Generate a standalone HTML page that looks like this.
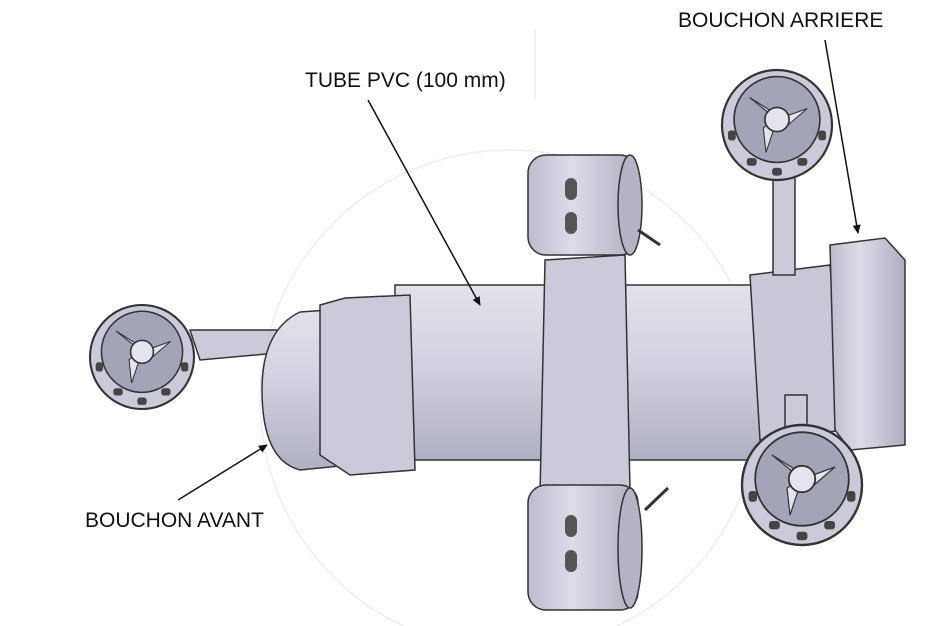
<!DOCTYPE html>
<html><head><meta charset="utf-8">
<style>
html,body{margin:0;padding:0;background:#fff;}
svg{display:block;}
text{font-family:"Liberation Sans",sans-serif;font-size:21px;fill:#111;}
</style></head>
<body>
<svg width="933" height="626" viewBox="0 0 933 626" xmlns="http://www.w3.org/2000/svg">
<defs>
<linearGradient id="tube" x1="0" y1="0" x2="0" y2="1">
<stop offset="0" stop-color="#e2e2ec"/><stop offset="0.4" stop-color="#d4d4e2"/><stop offset="1" stop-color="#b0b0c4"/>
</linearGradient>
<linearGradient id="cyl" x1="0" y1="0" x2="1" y2="0">
<stop offset="0" stop-color="#bcbccf"/><stop offset="0.4" stop-color="#dcdce8"/><stop offset="1" stop-color="#adadc0"/>
</linearGradient>
<marker id="ar" markerWidth="10" markerHeight="10" refX="8" refY="5" orient="auto" markerUnits="userSpaceOnUse">
<path d="M0,1 L9,5 L0,9 z" fill="#111"/>
</marker>
<g id="thr">
<circle r="1" fill="#cacada" stroke="#333" stroke-width="0.04"/>
<circle r="0.78" cy="-0.1" fill="#a4a4b8" stroke="#333" stroke-width="0.03"/>
<path d="M0,-0.1 L-0.5,-0.5 L-0.1,-0.25 Z M0,-0.1 L0.55,-0.3 L0.2,0 Z M0,-0.1 L-0.2,0.5 L-0.25,0.05 Z" fill="#e4e4ee" stroke="#333" stroke-width="0.02"/>
<circle r="0.22" cy="-0.1" fill="#e4e4ee" stroke="#333" stroke-width="0.03"/>
<rect x="-0.55" y="0.6" width="0.18" height="0.14" rx="0.05" fill="#444"/>
<rect x="-0.09" y="0.78" width="0.18" height="0.14" rx="0.05" fill="#444"/>
<rect x="0.37" y="0.6" width="0.18" height="0.14" rx="0.05" fill="#444"/>
<rect x="0.75" y="0.1" width="0.14" height="0.18" rx="0.05" fill="#444"/>
<rect x="-0.89" y="0.1" width="0.14" height="0.18" rx="0.05" fill="#444"/>
</g>
</defs>
<circle cx="510" cy="400" r="250" fill="none" stroke="#eee" stroke-width="1.5"/>
<line x1="535" y1="30" x2="535" y2="100" stroke="#eee" stroke-width="1.5"/>

<path d="M190,330 L360,330 L365,345 L200,360 Z" fill="#cacada" stroke="#333" stroke-width="1.5"/>
<path d="M400,305 L300,312 Q262,330 262,390 Q262,460 300,470 L400,460 Z" fill="url(#tube)" stroke="#333" stroke-width="1.5"/>
<rect x="395" y="285" width="370" height="175" fill="url(#tube)" stroke="#333" stroke-width="1.5"/>
<path d="M320,305 L345,298 L410,295 L415,470 L350,475 L320,455 Z" fill="#cacadb" stroke="#333" stroke-width="1.5"/>
<path d="M750,275 L830,265 L845,430 L760,440 Z" fill="#c8c8d8" stroke="#333" stroke-width="1.5"/>
<path d="M830,245 L885,238 L905,260 L905,445 L850,450 L835,430 Z" fill="url(#cyl)" stroke="#333" stroke-width="1.5"/>
<rect x="773" y="175" width="22" height="100" fill="#cacada" stroke="#333" stroke-width="1.5"/>
<rect x="785" y="395" width="22" height="50" fill="#cacada" stroke="#333" stroke-width="1.5"/>
<path d="M545,260 L625,255 L630,490 L540,495 Z" fill="#cacadb" stroke="#333" stroke-width="1.5"/>
<rect x="528" y="155" width="110" height="100" rx="18" fill="url(#cyl)" stroke="#333" stroke-width="1.5"/>
<ellipse cx="630" cy="205" rx="12" ry="50" fill="#b4b4c6" stroke="#333" stroke-width="1.5"/>
<rect x="565" y="178" width="12" height="22" rx="6" fill="#555"/>
<rect x="565" y="212" width="12" height="22" rx="6" fill="#555"/>
<line x1="638" y1="230" x2="660" y2="245" stroke="#333" stroke-width="3"/>
<rect x="528" y="485" width="110" height="125" rx="18" fill="url(#cyl)" stroke="#333" stroke-width="1.5"/>
<ellipse cx="630" cy="548" rx="12" ry="60" fill="#b4b4c6" stroke="#333" stroke-width="1.5"/>
<rect x="565" y="515" width="12" height="22" rx="6" fill="#555"/>
<rect x="565" y="550" width="12" height="22" rx="6" fill="#555"/>
<line x1="645" y1="510" x2="668" y2="488" stroke="#333" stroke-width="3"/>

<use href="#thr" transform="translate(142,357) scale(52)"/>
<use href="#thr" transform="translate(777,125) scale(55)"/>
<use href="#thr" transform="translate(802,485) scale(60)"/>

<text x="305" y="87">TUBE PVC (100 mm)</text>
<text x="678" y="27">BOUCHON ARRIERE</text>
<text x="85" y="527">BOUCHON AVANT</text>
<line x1="368" y1="100" x2="480" y2="305" stroke="#111" stroke-width="1.5" marker-end="url(#ar)"/>
<line x1="825" y1="40" x2="858" y2="233" stroke="#111" stroke-width="1.5" marker-end="url(#ar)"/>
<line x1="178" y1="500" x2="267" y2="445" stroke="#111" stroke-width="1.5" marker-end="url(#ar)"/>
</svg>
</body></html>
